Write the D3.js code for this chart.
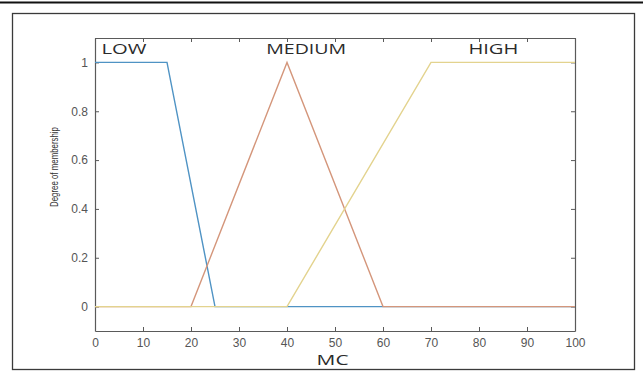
<!DOCTYPE html>
<html>
<head>
<meta charset="utf-8">
<script src="https://cdn.jsdelivr.net/npm/d3@7"></script>
<style>
  body { margin: 0; background: #fff; }
  svg { display: block; }
</style>
</head>
<body>
<svg id="chart" width="643" height="372"></svg>
<script>
// Membership functions of the MC input variable
const setNames = ["LOW", "MEDIUM", "HIGH"];
const lowX = [0, 15, 25, 100];
const lowY = [1, 1, 0, 0];
const mediumX = [0, 20, 40, 60, 100];
const mediumY = [0, 0, 1, 0, 0];
const highX = [0, 40, 70, 100];
const highY = [0, 0, 1, 1];
const xTickValues = [0, 10, 20, 30, 40, 50, 60, 70, 80, 90, 100];
const yTickValues = [0, 0.2, 0.4, 0.6, 0.8, 1];
const xTitle = "MC";
const yTitle = "Degree of membership";

const svg = d3.select("#chart");
const W = 643, H = 372;
const plot = { left: 95, right: 575, top: 38, bottom: 331 };

const x = d3.scaleLinear().domain([0, 100]).range([plot.left, plot.right]);
const y = d3.scaleLinear().domain([-0.1, 1.1]).range([plot.bottom, plot.top]);

// page rule and figure frame
svg.append("line").attr("x1", 0).attr("x2", W).attr("y1", 2.5).attr("y2", 2.5)
  .attr("stroke", "#111").attr("stroke-width", 2);
svg.append("rect").attr("x", 12.5).attr("y", 13.5).attr("width", 622).attr("height", 356)
  .attr("fill", "none").attr("stroke", "#3a3a3a").attr("stroke-width", 1.3);

const tickFont = "'Liberation Sans', Arial, sans-serif";

// axes with inward ticks on all four sides
const axisColor = "#5a5a5a";
const bottomAxis = d3.axisBottom(x).tickValues(xTickValues).tickSizeInner(-4).tickSizeOuter(0).tickPadding(10);
const leftAxis = d3.axisLeft(y).tickValues(yTickValues).tickSizeInner(-4).tickSizeOuter(0).tickPadding(10)
  .tickFormat(d => d === 0 || d === 1 ? d3.format("d")(d) : d3.format(".1f")(d));

const gx = svg.append("g").attr("transform", `translate(0,${plot.bottom})`).call(bottomAxis);
const gy = svg.append("g").attr("transform", `translate(${plot.left},0)`).call(leftAxis);
const gxTop = svg.append("g").attr("transform", `translate(0,${plot.top})`)
  .call(d3.axisTop(x).tickValues(xTickValues).tickSizeInner(-4).tickSizeOuter(0).tickFormat(""));
const gyRight = svg.append("g").attr("transform", `translate(${plot.right},0)`)
  .call(d3.axisRight(y).tickValues(yTickValues).tickSizeInner(-4).tickSizeOuter(0).tickFormat(""));

[gx, gy, gxTop, gyRight].forEach(g => {
  g.select(".domain").attr("stroke", axisColor).attr("stroke-width", 1.2);
  g.selectAll(".tick line").attr("stroke", axisColor);
  g.selectAll("text").attr("fill", "#555").attr("font-family", tickFont).attr("font-size", 12);
});
gx.selectAll(".tick text").attr("dy", "0.71em").attr("y", 7);
gy.selectAll(".tick text").attr("x", -7);

// membership curves, drawn in order so later sets sit on top
const colors = ["#4f93c4", "#d4967b", "#e3d38e"];
const curves = [
  lowX.map((v, i) => [v, lowY[i]]),
  mediumX.map((v, i) => [v, mediumY[i]]),
  highX.map((v, i) => [v, highY[i]])
];
const line = d3.line().x(d => x(d[0])).y(d => y(d[1]));
curves.forEach((pts, i) => {
  svg.append("path").attr("d", line(pts)).attr("fill", "none")
    .attr("stroke", colors[i]).attr("stroke-width", 1.4);
});

// set names along the top of the plot
const nameFont = "'Open Sans', 'DejaVu Sans', sans-serif";
const namePos = [
  { cx: x(0) + 7 + 22, w: 45 },
  { cx: x(44), w: 80 },
  { cx: x(83), w: 50 }
];
setNames.forEach((name, i) => {
  svg.append("text").text(name)
    .attr("x", namePos[i].cx).attr("y", 54)
    .attr("text-anchor", "middle")
    .attr("font-family", nameFont).attr("font-size", 15)
    .attr("textLength", namePos[i].w).attr("lengthAdjust", "spacingAndGlyphs")
    .attr("fill", "#2b2b2b");
});

// axis titles
svg.append("text").text(xTitle)
  .attr("x", x(49.5)).attr("y", 365)
  .attr("text-anchor", "middle")
  .attr("font-family", nameFont).attr("font-size", 15)
  .attr("textLength", 32).attr("lengthAdjust", "spacingAndGlyphs")
  .attr("fill", "#2b2b2b");

svg.append("text").text(yTitle)
  .attr("transform", "translate(58,167) rotate(-90)")
  .attr("text-anchor", "middle")
  .attr("font-family", "'Liberation Sans Narrow', 'Liberation Sans', Arial, sans-serif")
  .attr("font-size", 10)
  .attr("textLength", 80).attr("lengthAdjust", "spacingAndGlyphs")
  .attr("fill", "#333");
</script>
</body>
</html>
